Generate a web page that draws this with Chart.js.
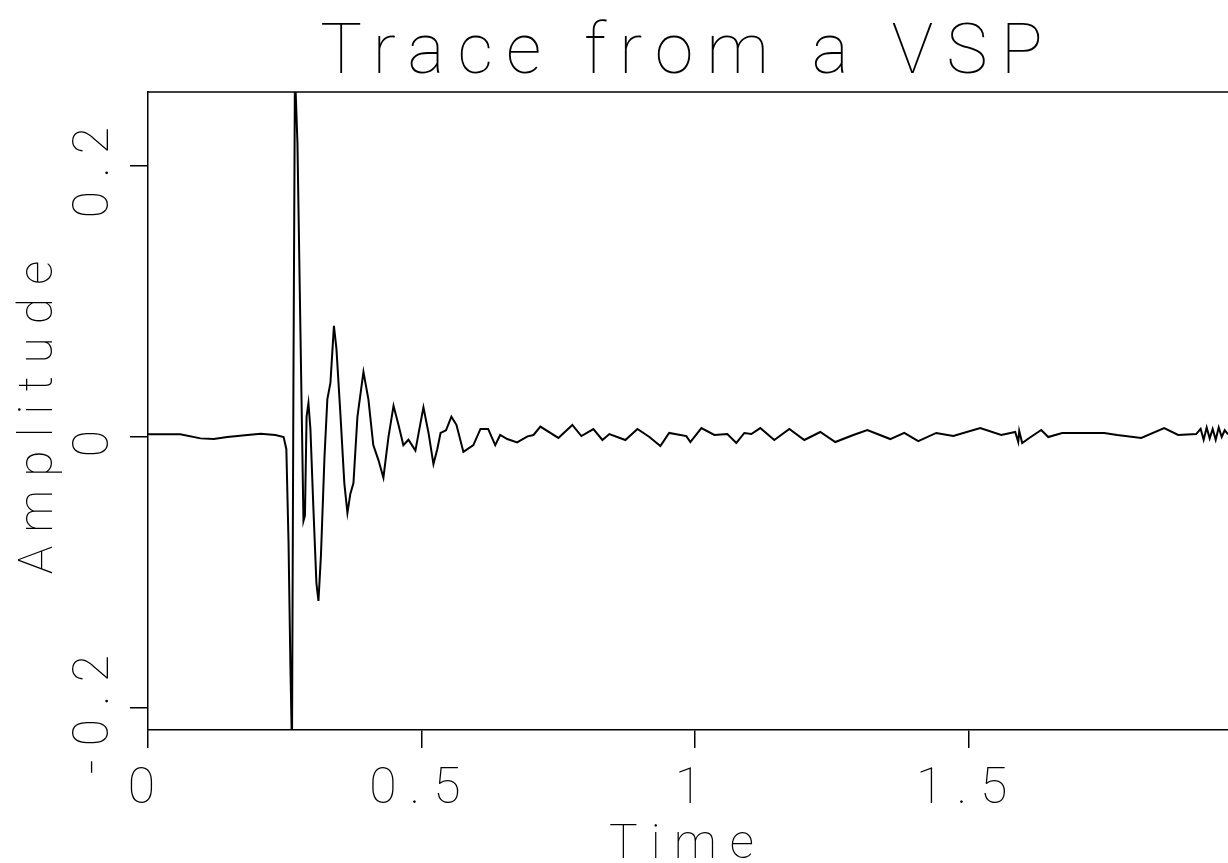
<!DOCTYPE html>
<html>
<head>
<meta charset="utf-8">
<script src="https://cdn.jsdelivr.net/npm/chart.js@4/dist/chart.umd.min.js"></script>
<style>
  html, body { margin: 0; padding: 0; background: #fff; }
  #wrap { width: 1228px; height: 863px; }
</style>
</head>
<body>
<div id="wrap"><canvas id="vspChart"></canvas></div>
<script>
// trace values (time in s, amplitude)
const times = [
  0, 0.032, 0.059, 0.096, 0.12, 0.145, 0.182, 0.206, 0.233, 0.248,
  0.253, 0.257, 0.2605, 0.2633, 0.266, 0.2687, 0.2733, 0.2788, 0.2843, 0.287,
  0.29, 0.2934, 0.297, 0.3025, 0.308, 0.3117, 0.3163, 0.3227, 0.328, 0.3336,
  0.34, 0.3446, 0.352, 0.359, 0.3647, 0.37, 0.3757, 0.383, 0.394, 0.403,
  0.412, 0.4214, 0.4305, 0.4397, 0.449, 0.458, 0.467, 0.4763, 0.489, 0.4963,
  0.5037, 0.513, 0.522, 0.529, 0.535, 0.54, 0.545, 0.5548, 0.564, 0.5768,
  0.595, 0.608, 0.622, 0.635, 0.644, 0.657, 0.675, 0.694, 0.705, 0.7175,
  0.7505, 0.776, 0.7925, 0.8145, 0.831, 0.8437, 0.873, 0.895, 0.917, 0.937,
  0.953, 0.9845, 0.9918, 1.012, 1.0356, 1.0594, 1.0759, 1.0905, 1.1033, 1.1197,
  1.1453, 1.1728, 1.2002, 1.2294, 1.2569, 1.2898, 1.3154, 1.3574, 1.383, 1.4086,
  1.4415, 1.4726, 1.5219, 1.5603, 1.5859, 1.5914, 1.5932, 1.5987, 1.6115, 1.6335,
  1.6463, 1.6718, 1.7139, 1.7486, 1.7724, 1.8163, 1.8583, 1.8839, 1.9168, 1.925,
  1.9305, 1.936, 1.9415, 1.947, 1.9525, 1.958, 1.9635, 1.969, 1.975
];
const amplitudes = [
  0.002, 0.002, 0.002, -0.001, -0.0015, 0.0, 0.0015, 0.0025, 0.0015, 0.0,
  -0.009, -0.078, -0.171, -0.23, 0.046, 0.27, 0.217, 0.077, -0.062, -0.058,
  0.015, 0.025, 0.006, -0.053, -0.108, -0.121, -0.087, -0.015, 0.028, 0.04,
  0.082, 0.065, 0.016, -0.034, -0.056, -0.042, -0.034, 0.015, 0.048, 0.028,
  -0.006, -0.017, -0.03, 0.0, 0.023, 0.009, -0.006, -0.002, -0.01, 0.006,
  0.022, 0.003, -0.02, -0.009, 0.003, 0.004, 0.005, 0.015, 0.009, -0.011,
  -0.006, 0.006, 0.006, -0.006, 0.0015, -0.0015, -0.004, 0.0005, 0.0015, 0.0077,
  -0.0007, 0.0089, 0.0007, 0.0059, -0.0022, 0.0022, -0.0022, 0.0059, 0.0, -0.0066,
  0.003, 0.0007, -0.0037, 0.0066, 0.0015, 0.0022, -0.0044, 0.003, 0.0022, 0.0066,
  -0.0022, 0.0059, -0.0022, 0.0037, -0.0037, 0.0015, 0.0052, -0.0015, 0.003, -0.003,
  0.003, 0.0007, 0.0066, 0.0015, 0.0037, -0.0037, 0.0045, -0.0045, -0.0007, 0.0052,
  0.0, 0.003, 0.003, 0.003, 0.0015, -0.0007, 0.0066, 0.0015, 0.0022, 0.006,
  -0.002, 0.007, -0.001, 0.006, -0.002, 0.007, 0.0, 0.005, 0.002
];
const xTicks = [0, 0.5, 1, 1.5];
const xTickLabels = ['0', '0.5', '1', '1.5'];
const yTicks = [-0.2, 0, 0.2];
const yTickLabels = ['-0.2', '0', '0.2'];

const FONT = 'Roboto';

const penText = {
  id: 'penText',
  beforeDraw(chart) {
    chart.ctx.letterSpacing = '13px';
  },
  afterDraw(chart) {
    const ctx = chart.ctx;
    const area = chart.chartArea;
    const y = chart.scales.y;
    ctx.save();
    // top frame line
    ctx.strokeStyle = '#000';
    ctx.lineWidth = 1.5;
    ctx.beginPath();
    ctx.moveTo(area.left, area.top);
    ctx.lineTo(area.right, area.top);
    ctx.stroke();
    // rotated y tick labels
    ctx.fillStyle = '#000';
    ctx.font = '100 50px ' + FONT;
    ctx.textAlign = 'center';
    ctx.textBaseline = 'middle';
    y.ticks.forEach(t => {
      const py = y.getPixelForValue(t.value);
      ctx.save();
      ctx.translate(95, py);
      ctx.rotate(-Math.PI / 2);
      ctx.fillText(yTickLabels[yTicks.indexOf(t.value)], 0, 0);
      ctx.restore();
    });
    ctx.restore();
  }
};

new Chart(document.getElementById('vspChart'), {
  type: 'line',
  data: {
    datasets: [{
      data: times.map((t, i) => ({ x: t, y: amplitudes[i] })),
      borderColor: '#000',
      borderWidth: 2,
      pointRadius: 0,
      tension: 0,
      fill: false
    }]
  },
  options: {
    responsive: true,
    maintainAspectRatio: false,
    animation: false,
    layout: { padding: 0 },
    plugins: {
      legend: { display: false },
      tooltip: { enabled: false },
      title: {
        display: true,
        fullSize: false,
        text: 'Trace from a VSP',
        color: '#000',
        font: { family: FONT, size: 70, weight: '100', lineHeight: 1 },
        padding: { top: 20, bottom: 2 }
      }
    },
    scales: {
      x: {
        type: 'linear',
        min: 0,
        max: 1.975,
        afterBuildTicks: s => { s.ticks = xTicks.map(v => ({ value: v })); },
        afterFit: s => { s.height = 133; },
        border: { color: '#000', width: 1.5 },
        grid: { drawOnChartArea: false, drawTicks: true, tickLength: 18, color: '#000', lineWidth: 1.5 },
        ticks: {
          color: '#000',
          padding: 12,
          maxRotation: 0,
          font: { family: FONT, size: 50, weight: '100' },
          callback: v => xTickLabels[xTicks.indexOf(v)]
        },
        title: {
          display: true,
          text: 'Time',
          color: '#000',
          font: { family: FONT, size: 48, weight: '100', lineHeight: 0.7 },
          padding: { top: 0, bottom: 0 }
        }
      },
      y: {
        min: -0.2162,
        max: 0.2546,
        afterBuildTicks: s => { s.ticks = yTicks.map(v => ({ value: v })); },
        afterFit: s => { s.width = 148; },
        border: { color: '#000', width: 1.5 },
        grid: { drawOnChartArea: false, drawTicks: true, tickLength: 18, color: '#000', lineWidth: 1.5 },
        ticks: { display: false },
        title: {
          display: true,
          text: 'Amplitude',
          color: '#000',
          font: { family: FONT, size: 48, weight: '100', lineHeight: 1 },
          padding: { top: 16, bottom: 0 }
        }
      }
    }
  },
  plugins: [penText]
});
</script>
</body>
</html>
